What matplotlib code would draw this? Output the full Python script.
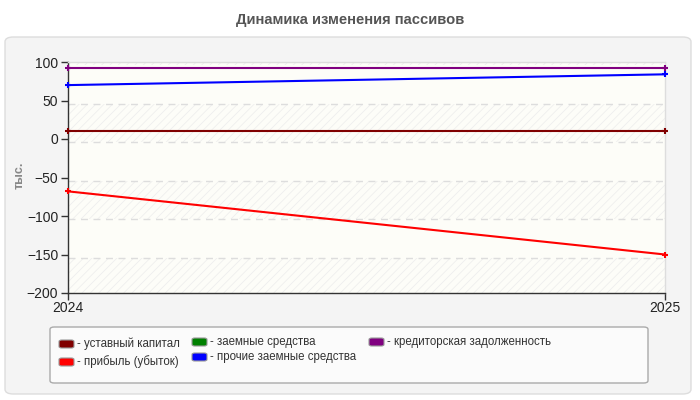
import matplotlib
matplotlib.use("Agg")
import matplotlib.pyplot as plt
from matplotlib.patches import FancyBboxPatch, Rectangle
import numpy as np

plt.rcParams['font.family'] = ['Liberation Sans', 'DejaVu Sans']
plt.rcParams['hatch.linewidth'] = 0.5

years = [2024, 2025]
series_names = ["уставный капитал", "прибыль (убыток)", "заемные средства",
                "прочие заемные средства", "кредиторская задолженность"]
series_colors = ["#800000", "#ff0000", "#008000", "#0000ff", "#800080"]
ustav = [10, 10]
pribyl = [-68, -150]
zaem = [np.nan, np.nan]
prochie = [70, 84]
kredit = [92, 92]
series_values = [ustav, pribyl, zaem, prochie, kredit]
yticks = [100, 50, 0, -50, -100, -150, -200]

W, H = 700, 400
fig = plt.figure(figsize=(7, 4), dpi=100)
fig.patch.set_facecolor("white")

# panel
panel = FancyBboxPatch((5 / W, (H - 394) / H), 686 / W, 357 / H,
                       boxstyle="round,pad=0,rounding_size=0.012",
                       transform=fig.transFigure, facecolor="#f4f4f4",
                       edgecolor="#dddddd", linewidth=1, zorder=-5)
fig.patches.append(panel)

fig.text(350 / W, 1 - 20 / H, "Динамика изменения пассивов", ha="center", va="center",
         fontsize=10.6, fontweight="bold", color="#555555")

ax = fig.add_axes([68 / W, (H - 293) / H, (665 - 68) / W, (293 - 62) / H])
ax.set_zorder(1)
ax.set_facecolor("#fdfdf8")
ax.set_xlim(years[0], years[-1])
ax.set_ylim(-200, 100)

# alternating bands
for lo in range(-200, 100, 50):
    if ((lo + 200) // 50) % 2 == 0:
        ax.add_patch(Rectangle((years[0], lo - 4), years[-1] - years[0], 50,
                               facecolor="none", edgecolor="#ececec", hatch="////",
                               linewidth=0, zorder=0))
ax.add_patch(Rectangle((years[0], 96), years[-1] - years[0], 4,
                       facecolor="none", edgecolor="#ececec", hatch="////",
                       linewidth=0, zorder=0))

for v in yticks[1:-1]:
    ax.axhline(v - 4, color="#dddddd", linestyle=(0, (5, 4)), linewidth=1, zorder=1)

for vals, col in zip(series_values, series_colors):
    ax.plot(years, vals, color=col, linewidth=1.5, marker="+", markersize=5,
            markeredgewidth=1.5, zorder=3, clip_on=False)

ax.set_yticks(yticks)
ax.set_xticks(years)
ax.set_xticklabels([str(y) for y in years])
ax.tick_params(axis="both", direction="out", length=5, width=1, colors="#333333",
               labelsize=10, labelcolor="#222222")
ax.tick_params(axis="x", pad=1)
ax.tick_params(axis="y", pad=2)
for s in ["left", "bottom"]:
    ax.spines[s].set_color("#333333")
    ax.spines[s].set_linewidth(1)
for s in ["top", "right"]:
    ax.spines[s].set_color("#dddddd")
    ax.spines[s].set_linewidth(1)

fig.text(20 / W, 1 - 175 / H, "тыс.", rotation=90, ha="center", va="center",
         fontsize=9, fontweight="bold", color="#888888")

# legend
lg = FancyBboxPatch((50 / W, (H - 383) / H), 598 / W, 56 / H,
                    boxstyle="round,pad=0,rounding_size=0.006",
                    transform=fig.transFigure, facecolor="#fbfbfb",
                    edgecolor="#aaaaaa", linewidth=1, zorder=1)
fig.patches.append(lg)
positions = [(59, 344), (59, 362), (192, 342), (192, 357), (369, 342)]
for (x, y), name, col in zip(positions, series_names, series_colors):
    h = FancyBboxPatch(((x) / W, (H - y - 4) / H), 15 / W, 8 / H,
                       boxstyle="round,pad=0,rounding_size=0.004",
                       transform=fig.transFigure, facecolor=col,
                       edgecolor="#999999", linewidth=0.8, zorder=2)
    fig.patches.append(h)
    fig.text((x + 18) / W, 1 - y / H, "- " + name, ha="left", va="center",
             fontsize=8.3, color="#333333")

fig.savefig("out.png", dpi=100)
